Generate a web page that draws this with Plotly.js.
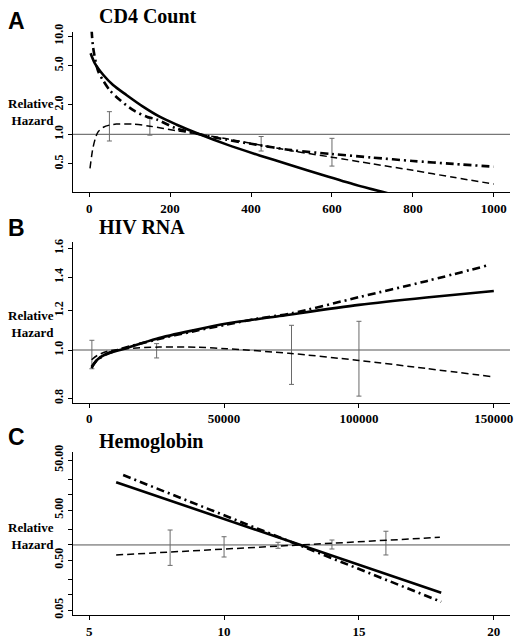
<!DOCTYPE html>
<html>
<head>
<meta charset="utf-8">
<script src="https://cdn.plot.ly/plotly-3.0.1.min.js"></script>
<style>html,body{margin:0;padding:0;background:#fff}#chart{width:521px;height:641px}</style>
</head>
<body>
<div id="chart"></div>
<script>
// ---------- Panel A: CD4 Count ----------
const cd4SolidX = [3.5, 14, 35, 59, 92, 133, 174, 215, 273, 339, 421, 495, 577, 660, 740];
const cd4SolidY = [6.67, 5.27, 4.01, 3.17, 2.51, 1.91, 1.51, 1.26, 1.0, 0.79, 0.61, 0.49, 0.385, 0.305, 0.25];
const cd4DashDotX = [6, 10, 22, 35, 51, 76, 110, 142, 166, 215, 273, 340, 400, 500, 600, 700, 800, 900, 1000];
const cd4DashDotY = [11.5, 7.5, 4.4, 3.5, 2.8, 2.23, 1.75, 1.51, 1.42, 1.15, 1.0, 0.88, 0.80, 0.69, 0.63, 0.58, 0.535, 0.50, 0.468];
const cd4DashX = [2, 6, 10, 16, 22, 35, 50, 67, 109, 150, 215, 273, 340, 400, 500, 600, 700, 800, 900, 1000];
const cd4DashY = [0.45, 0.6, 0.75, 0.93, 1.06, 1.18, 1.24, 1.27, 1.27, 1.21, 1.09, 1.0, 0.9, 0.81, 0.68, 0.585, 0.5, 0.43, 0.365, 0.312];
const cd4CiX = [50, 150, 425, 600];
const cd4CiLow = [0.855, 0.98, 0.676, 0.475];
const cd4CiHigh = [1.70, 1.45, 0.95, 0.91];
const cd4TickVals = [0, 200, 400, 600, 800, 1000];
const cd4TickText = ['0', '200', '400', '600', '800', '1000'];
const cd4YTickVals = [0.5, 1, 2, 5, 10];
const cd4YTickText = ['0.5', '1.0', '2.0', '5.0', '10.0'];

// ---------- Panel B: HIV RNA ----------
const rnaSolidX = [900, 2700, 6400, 11400, 25000, 38500, 51000, 70600, 100000, 125000, 150000];
const rnaSolidY = [0.92, 0.953, 0.983, 1.0, 1.054, 1.095, 1.13, 1.17, 1.232, 1.275, 1.314];
const rnaDashDotX = [900, 3000, 6400, 11400, 25000, 38500, 51000, 62000, 75000, 100000, 125000, 148000];
const rnaDashDotY = [0.925, 0.955, 0.98, 1.003, 1.05, 1.09, 1.125, 1.155, 1.185, 1.277, 1.375, 1.48];
const rnaDashX = [900, 3000, 7000, 13900, 26000, 40000, 51000, 74000, 100000, 125000, 150000];
const rnaDashY = [0.956, 0.975, 0.995, 1.006, 1.014, 1.013, 1.006, 0.985, 0.953, 0.918, 0.883];
const rnaCiX = [1000, 25000, 75000, 100000];
const rnaCiLow = [0.917, 0.964, 0.853, 0.808];
const rnaCiHigh = [1.046, 1.03, 1.121, 1.142];
const rnaTickVals = [0, 50000, 100000, 150000];
const rnaTickText = ['0', '50000', '100000', '150000'];
const rnaYTickVals = [0.8, 1.0, 1.2, 1.4, 1.6];
const rnaYTickText = ['0.8', '1.0', '1.2', '1.4', '1.6'];

// ---------- Panel C: Hemoglobin ----------
const hgbSolidX = [6, 18.05];
const hgbSolidY = [17.9, 0.111];
const hgbDashDotX = [6.26, 18.05];
const hgbDashDotY = [25, 0.073];
const hgbDashX = [6, 18];
const hgbDashY = [0.63, 1.42];
const hgbCiX = [8, 10, 12, 14, 16];
const hgbCiLow = [0.39, 0.574, 0.857, 0.83, 0.63];
const hgbCiHigh = [1.99, 1.46, 1.13, 1.256, 1.88];
const hgbTickVals = [5, 10, 15, 20];
const hgbTickText = ['5', '10', '15', '20'];
const hgbYTickVals = [0.05, 0.1, 0.2, 0.5, 1, 2, 5, 10, 20, 50];
const hgbYTickText = ['0.05', '', '', '0.50', '', '', '5.00', '', '', '50.00'];

const panelTitles = ['CD4 Count', 'HIV RNA', 'Hemoglobin'];
const panelLetters = ['A', 'B', 'C'];
const yLabel = 'Relative<br>Hazard';
const refValue = 1;

// ---------- layout helpers ----------
const W = 521, H = 641;
const px = p => p / W;
const py = p => 1 - p / H;
const SERIF = 'Liberation Serif, Times New Roman, serif';
const SANS = 'Liberation Sans, Arial, sans-serif';

function lineTrace(x, y, ax, style, shape) {
  const st = {
    solid: {width: 2.6, dash: 'solid'},
    dashdot: {width: 2.6, dash: '8px,4px,2px,4px'},
    dash: {width: 1.5, dash: '7px,4px'}
  }[style];
  return {x: x, y: y, xaxis: 'x' + ax, yaxis: 'y' + ax, type: 'scatter', mode: 'lines',
    line: {color: '#000', width: st.width, dash: st.dash, shape: shape, smoothing: 0.8},
    hoverinfo: 'skip', showlegend: false};
}
function ciTrace(x, lo, hi, ax) {
  const mid = lo.map((l, i) => Math.sqrt(l * hi[i]));
  return {x: x, y: mid, xaxis: 'x' + ax, yaxis: 'y' + ax, type: 'scatter', mode: 'markers',
    marker: {size: 1, opacity: 0},
    error_y: {type: 'data', symmetric: false,
      array: hi.map((h, i) => h - mid[i]), arrayminus: lo.map((l, i) => mid[i] - l),
      color: '#6a6a6a', thickness: 1, width: 2.5},
    hoverinfo: 'skip', showlegend: false};
}

const data = [
  ciTrace(cd4CiX, cd4CiLow, cd4CiHigh, ''),
  lineTrace(cd4DashX, cd4DashY, '', 'dash', 'spline'),
  lineTrace(cd4DashDotX, cd4DashDotY, '', 'dashdot', 'spline'),
  lineTrace(cd4SolidX, cd4SolidY, '', 'solid', 'spline'),
  ciTrace(rnaCiX, rnaCiLow, rnaCiHigh, '2'),
  lineTrace(rnaDashX, rnaDashY, '2', 'dash', 'spline'),
  lineTrace(rnaDashDotX, rnaDashDotY, '2', 'dashdot', 'spline'),
  lineTrace(rnaSolidX, rnaSolidY, '2', 'solid', 'spline'),
  ciTrace(hgbCiX, hgbCiLow, hgbCiHigh, '3'),
  lineTrace(hgbDashX, hgbDashY, '3', 'dash', 'linear'),
  lineTrace(hgbDashDotX, hgbDashDotY, '3', 'dashdot', 'linear'),
  lineTrace(hgbSolidX, hgbSolidY, '3', 'solid', 'linear')
];

const xDomain = [px(73), px(510)];
const xTickFont = {family: SERIF, size: 13, color: '#000', weight: 'bold'};
const yTickFont = {family: SERIF, size: 12, color: '#000', weight: 'bold'};
function xAxis(range, tv, tt, anchor) {
  return {domain: xDomain, range: range, anchor: anchor, tickvals: tv, ticktext: tt,
    showline: true, linecolor: '#000', linewidth: 1, ticks: 'outside', ticklen: 4, tickwidth: 1,
    tickcolor: '#000', showgrid: false, zeroline: false, tickfont: xTickFont, fixedrange: true};
}
function yAxis(domTop, domBot, range, tv, tt, anchor) {
  return {domain: [py(domBot), py(domTop)], type: 'log', range: range, anchor: anchor,
    tickvals: tv, ticktext: tt, tickangle: -90,
    showline: true, linecolor: '#000', linewidth: 1, ticks: 'outside', ticklen: 4, tickwidth: 1,
    tickcolor: '#000', showgrid: false, zeroline: false, tickfont: yTickFont, fixedrange: true};
}

const titleY = [16, 227, 441];
const letterY = [21, 228, 437];
const labelY = [112, 323.5, 536];
const annotations = [];
for (let i = 0; i < 3; i++) {
  annotations.push({text: panelTitles[i], xref: 'paper', yref: 'paper', x: px(97), y: py(titleY[i]),
    xanchor: 'left', yanchor: 'middle', showarrow: false,
    font: {family: SERIF, size: 20, color: '#000', weight: 'bold'}});
  annotations.push({text: panelLetters[i], xref: 'paper', yref: 'paper', x: px(6), y: py(letterY[i]),
    xanchor: 'left', yanchor: 'middle', showarrow: false,
    font: {family: SANS, size: 23, color: '#000', weight: 'bold'}});
  annotations.push({text: yLabel, xref: 'paper', yref: 'paper', x: px(56), y: py(labelY[i]),
    xanchor: 'right', yanchor: 'middle', align: 'right', showarrow: false,
    font: {family: SERIF, size: 13, color: '#000', weight: 'bold'}});
}

const shapes = ['', '2', '3'].map(a => ({type: 'line', xref: 'x' + a + ' domain', yref: 'y' + a,
  x0: 0, x1: 1, y0: refValue, y1: refValue, line: {color: '#555', width: 1}, layer: 'below'}));

const layout = {
  width: W, height: H,
  margin: {l: 0, r: 0, t: 0, b: 0},
  paper_bgcolor: '#fff', plot_bgcolor: '#fff',
  showlegend: false,
  xaxis: xAxis([-40, 1040], cd4TickVals, cd4TickText, 'y'),
  yaxis: yAxis(31.7, 192, [-0.587, 1.044], cd4YTickVals, cd4YTickText, 'x'),
  xaxis2: xAxis([-6000, 156000], rnaTickVals, rnaTickText, 'y2'),
  yaxis2: yAxis(241.7, 402.7, [-0.1058, 0.2175], rnaYTickVals, rnaYTickText, 'x2'),
  xaxis3: xAxis([4.4, 20.6], hgbTickVals, hgbTickText, 'y3'),
  yaxis3: yAxis(451.7, 615, [-1.401, 1.865], hgbYTickVals, hgbYTickText, 'x3'),
  annotations: annotations,
  shapes: shapes
};

Plotly.newPlot('chart', data, layout, {staticPlot: true, displayModeBar: false});
</script>
</body>
</html>
